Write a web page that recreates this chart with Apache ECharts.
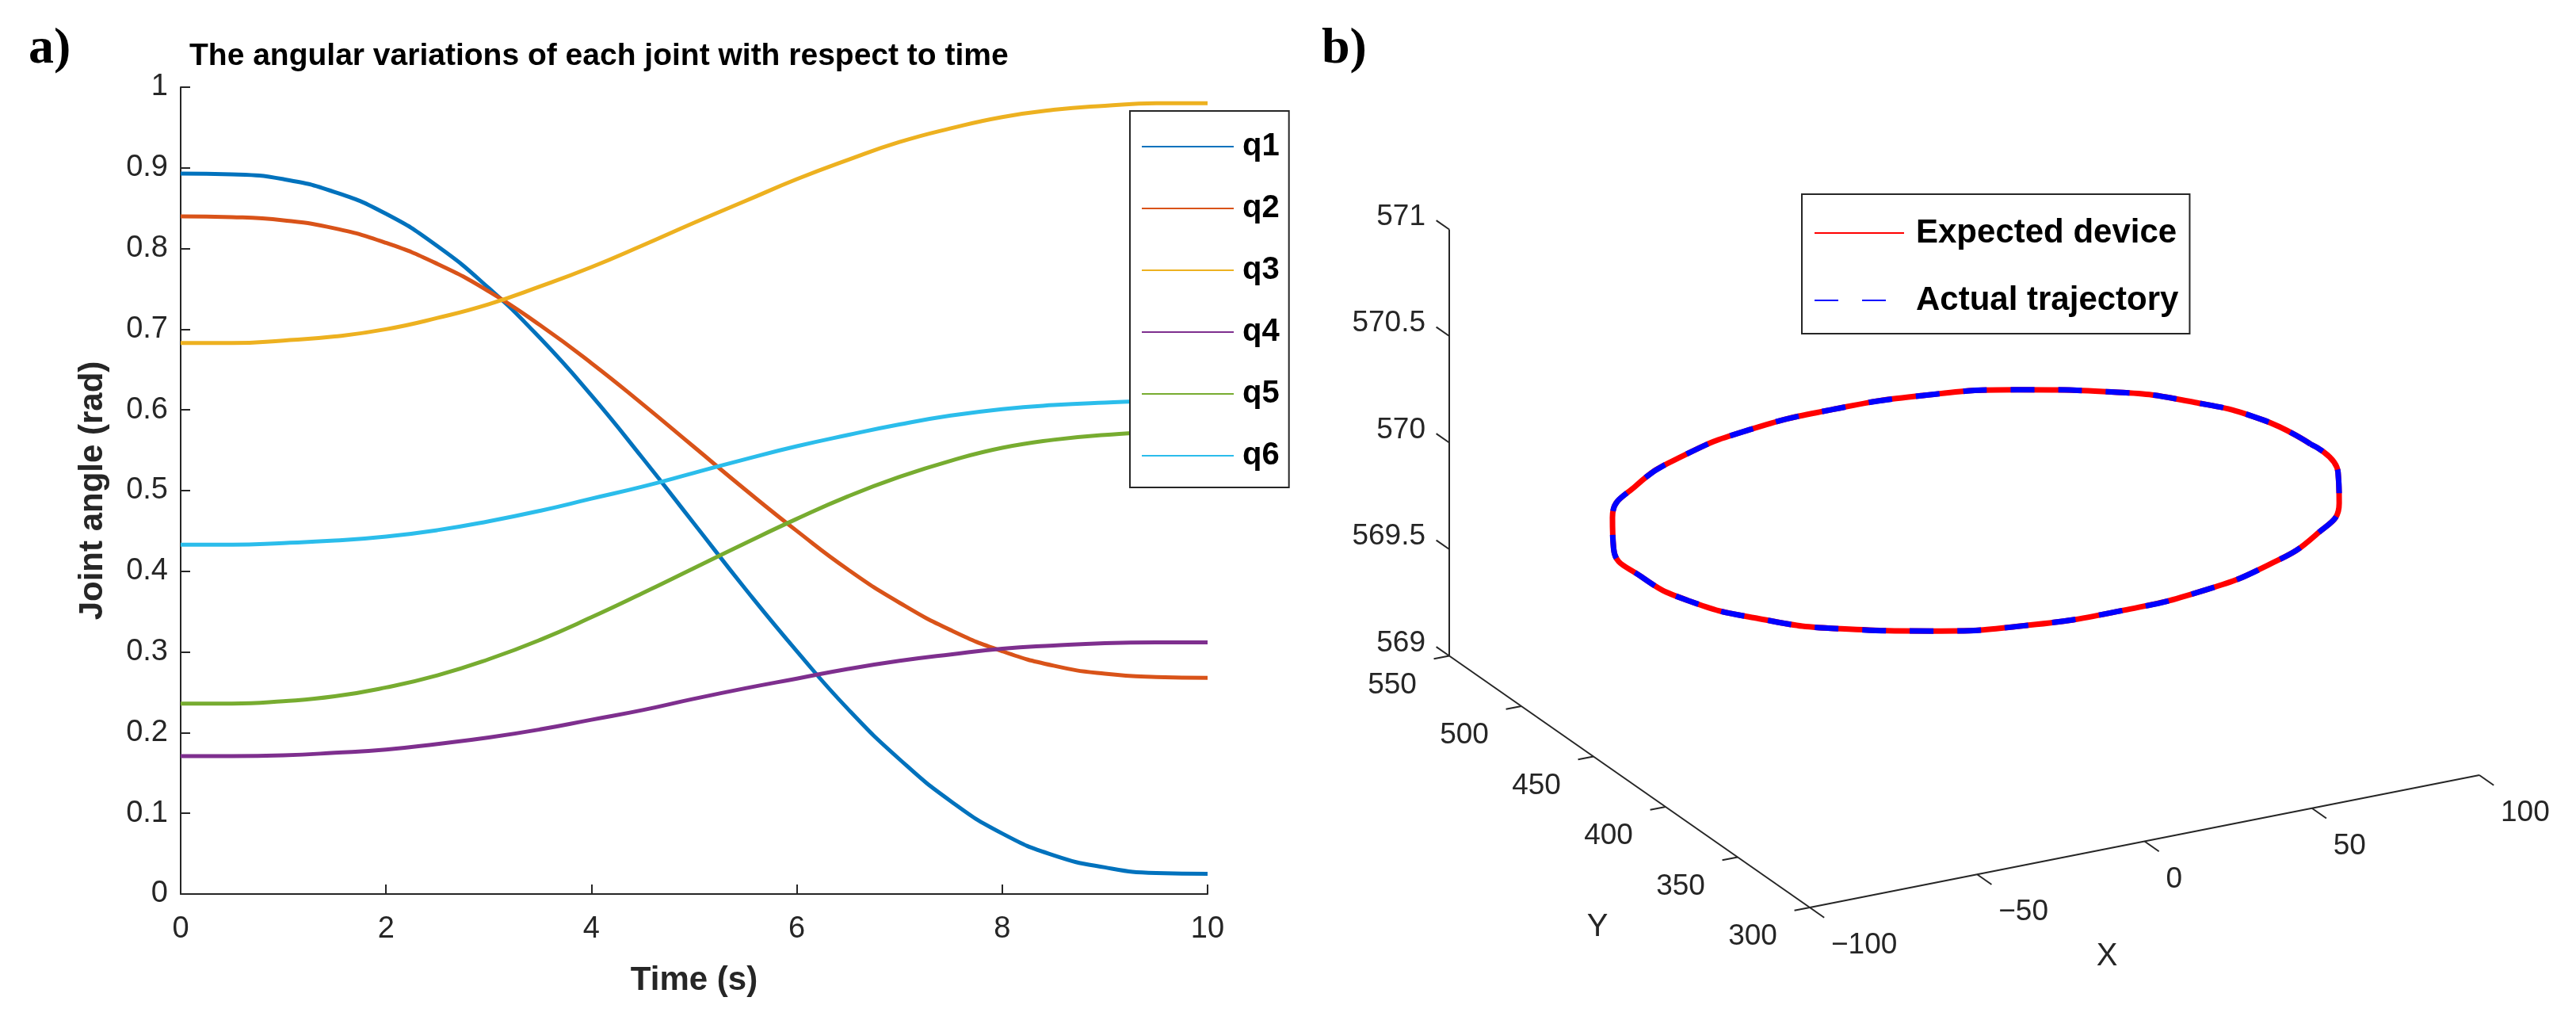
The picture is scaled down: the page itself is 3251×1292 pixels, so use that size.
<!DOCTYPE html>
<html><head><meta charset="utf-8">
<script src="https://cdn.jsdelivr.net/npm/echarts@6/dist/echarts.min.js"></script>
<style>html,body{margin:0;padding:0;background:#fff}#c{width:3251px;height:1292px}</style>
</head><body><div id="c"></div>
<script>
const time=[0,0.5,1,1.5,2,2.5,3,3.5,4,4.5,5,5.5,6,6.5,7,7.5,8,8.5,9,9.5,10];
const q1=[.893,.892,.886,.870,.843,.803,.751,.689,.618,.540,.459,.378,.301,.229,.167,.115,.075,.048,.033,.026,.025];
const q2=[.840,.839,.835,.825,.807,.781,.747,.705,.658,.607,.554,.501,.450,.402,.361,.327,.301,.283,.273,.269,.268];
const q3=[.683,.683,.686,.691,.700,.714,.731,.753,.777,.804,.832,.859,.886,.910,.932,.949,.963,.972,.977,.980,.980];
const q4=[.171,.171,.172,.175,.179,.186,.194,.204,.216,.228,.242,.255,.267,.279,.289,.297,.304,.308,.311,.312,.312];
const q5=[.236,.236,.239,.245,.256,.271,.291,.315,.343,.373,.404,.435,.465,.493,.517,.537,.553,.563,.569,.572,.572];
const q6=[.433,.433,.435,.438,.443,.451,.462,.475,.490,.505,.522,.539,.555,.569,.582,.593,.601,.606,.609,.611,.611];
const trajX=[100,97,87,71,50,26,0,-26,-50,-71,-87,-97,-100,-97,-87,-71,-50,-26,0,26,50,71,87,97,100];
const trajY=[417,443,467,488,504,514,517,514,504,488,467,443,417,391,367,346,330,320,317,320,330,346,367,391,417];
const trajZ=[570,570,570,570,570,570,570,570,570,570,570,570,570,570,570,570,570,570,570,570,570,570,570,570,570];
const xTicks3=[-100,-50,0,50,100], yTicks3=[300,350,400,450,500,550], zTicks3=[569,569.5,570,570.5,571];

function proj(X,Y,Z){return [2284+(X+100)*4.225-(Y-300)*1.82, 1145-(X+100)*0.835-(Y-300)*1.27-(Z-569)*269];}
const traj=trajX.map((x,i)=>proj(x,trajY[i],trajZ[i]));
const names=['q1','q2','q3','q4','q5','q6'], qs=[q1,q2,q3,q4,q5,q6];
const cols=['#0072BD','#D95319','#EDB120','#7E2F8E','#77AC30','#2BBDEB'];
const F='Arial, "Liberation Sans", sans-serif';

function tickSeries(ticks,axis){
  return {type:'custom',xAxisIndex:1,yAxisIndex:1,silent:true,data:ticks.map(v=>[v]),
    renderItem:function(p,api){
      const v=ticks[p.dataIndex];let a,b,t,off,al;
      if(axis==='z'){a=proj(-100,550,v);b=proj(-100,550+9,v);off=[-30,-16];al='right';t=String(v);}
      else if(axis==='y'){a=proj(-100,v,569);b=proj(-100-4.6,v,569);off=[-72,37];al='center';t=String(v);}
      else {a=proj(v,300,569);b=proj(v,300-10,569);off=[27,48];al='left';t=v<0?'\u2212'+(-v):String(v);}
      const A=api.coord(a),B=api.coord(b);
      return {type:'group',children:[
        {type:'line',shape:{x1:A[0],y1:A[1],x2:B[0],y2:B[1]},style:{stroke:'#262626',lineWidth:2}},
        {type:'text',style:{text:t,x:A[0]+off[0],y:A[1]+off[1],align:al,verticalAlign:'middle',fontSize:37,fontFamily:F,fill:'#262626'}}]};
    }};
}
function axLine(p1,p2){return {type:'line',xAxisIndex:1,yAxisIndex:1,silent:true,symbol:'none',data:[p1,p2],lineStyle:{color:'#262626',width:2}};}

const series=names.map((n,i)=>({name:n,type:'line',data:time.map((t,j)=>[t,qs[i][j]]),smooth:true,symbol:'none',lineStyle:{color:cols[i],width:5},itemStyle:{color:cols[i]}}));
series.push(axLine(proj(-100,550,569),proj(-100,550,571)));
series.push(axLine(proj(-100,550,569),proj(-100,300,569)));
series.push(axLine(proj(-100,300,569),proj(100,300,569)));
series.push(tickSeries(zTicks3,'z'),tickSeries(yTicks3,'y'),tickSeries(xTicks3,'x'));
series.push({name:'Expected device',type:'line',xAxisIndex:1,yAxisIndex:1,data:traj,smooth:true,symbol:'none',lineStyle:{color:'#FF0000',width:7},itemStyle:{color:'#FF0000'}});
series.push({name:'Actual trajectory',type:'line',xAxisIndex:1,yAxisIndex:1,data:traj,smooth:true,symbol:'none',lineStyle:{color:'#0000FF',width:7,type:[30,30]},itemStyle:{color:'#0000FF'}});

const chart=echarts.init(document.getElementById('c'));
chart.setOption({
  animation:false,backgroundColor:'#fff',
  grid:[{left:228,top:110,width:1296,height:1018},
        {left:0,top:0,width:3251,height:1292}],
  xAxis:[{type:'value',min:0,max:10,interval:2,gridIndex:0,name:'Time (s)',nameLocation:'middle',nameGap:88,
          nameTextStyle:{fontSize:42,fontWeight:'bold',fontFamily:F,color:'#262626'},
          axisLine:{lineStyle:{color:'#262626',width:2}},axisTick:{inside:true,length:12,lineStyle:{color:'#262626',width:2}},
          axisLabel:{fontSize:38,fontFamily:F,color:'#262626',margin:26},splitLine:{show:false}},
         {type:'value',min:0,max:3251,gridIndex:1,show:false}],
  yAxis:[{type:'value',min:0,max:1,interval:0.1,gridIndex:0,name:'Joint angle (rad)',nameLocation:'middle',nameGap:90,
          nameTextStyle:{fontSize:42,fontWeight:'bold',fontFamily:F,color:'#262626'},
          axisLine:{lineStyle:{color:'#262626',width:2}},axisTick:{inside:true,length:12,lineStyle:{color:'#262626',width:2}},
          axisLabel:{fontSize:38,fontFamily:F,color:'#262626',margin:16,formatter:v=>String(+v.toFixed(1))},splitLine:{show:false}},
         {type:'value',min:0,max:1292,inverse:true,gridIndex:1,show:false}],
  legend:[{data:names,orient:'vertical',left:1426,top:140,itemWidth:116,itemHeight:20,itemGap:38,padding:[25,12,20,14],
           itemStyle:{color:'transparent',borderColor:'transparent',borderWidth:0},
           borderColor:'#262626',borderWidth:2,backgroundColor:'#fff',textStyle:{fontSize:40,fontWeight:'bold',fontFamily:F,color:'#000',padding:[0,0,0,6]}},
          {data:['Expected device','Actual trajectory'],orient:'vertical',left:2274,top:245,itemWidth:113,itemHeight:20,itemGap:43,padding:[28,14,21,15],
           itemStyle:{color:'transparent',borderColor:'transparent',borderWidth:0},
           borderColor:'#262626',borderWidth:2,backgroundColor:'#fff',textStyle:{fontSize:42,fontWeight:'bold',fontFamily:F,color:'#000',padding:[0,0,0,10]}}],
  graphic:[
    {type:'text',left:36,top:30,style:{text:'a)',font:'bold 64px "Liberation Serif", serif',fill:'#000'}},
    {type:'text',left:1668,top:30,style:{text:'b)',font:'bold 64px "Liberation Serif", serif',fill:'#000'}},
    {type:'text',left:239,top:52,style:{text:'The angular variations of each joint with respect to time',font:'bold 39px '+F,fill:'#000'}},
    {type:'text',x:2016,y:1170,style:{text:'Y',font:'40px '+F,fill:'#262626',align:'center',verticalAlign:'middle'}},
    {type:'text',x:2659,y:1207,style:{text:'X',font:'40px '+F,fill:'#262626',align:'center',verticalAlign:'middle'}}
  ],
  series:series
});
</script></body></html>
